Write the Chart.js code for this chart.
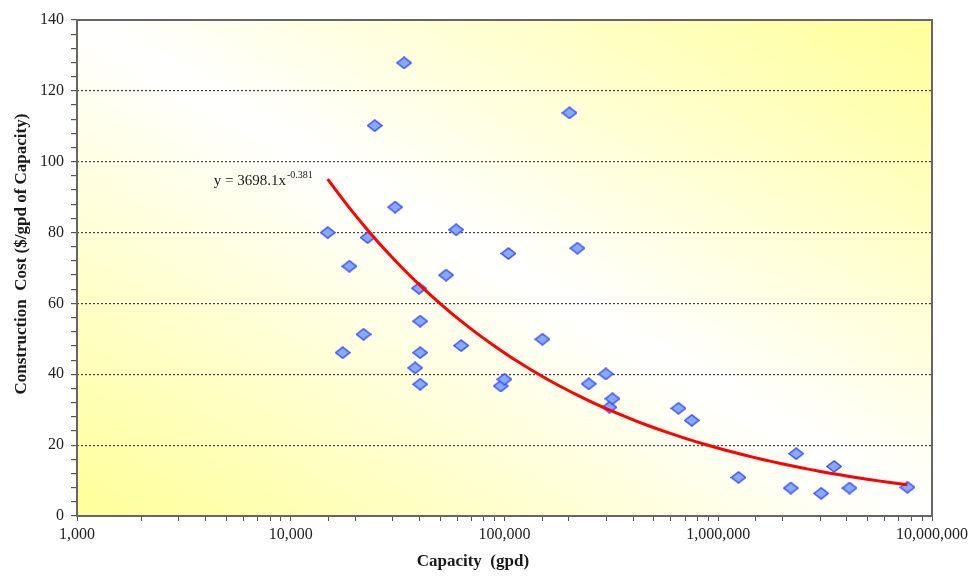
<!DOCTYPE html>
<html>
<head>
<meta charset="utf-8">
<script src="https://cdn.jsdelivr.net/npm/chart.js@4/dist/chart.umd.min.js"></script>
<style>
  html, body { margin: 0; padding: 0; background: #fff; }
  #wrap { width: 976px; height: 576px; }
</style>
</head>
<body>
<div id="wrap"><canvas id="myChart" width="976" height="576"></canvas></div>
<script>
// capacity (gpd) and construction cost ($/gpd) for each plant
var capacity = [14890, 17500, 18800, 21900, 22900, 24700, 30800, 33900, 38200, 39800,
    40300, 40300, 40300, 53300, 59400, 62700, 96100, 99900, 104300, 150400,
    201300, 219300, 247700, 297800, 309600, 319800, 651400, 751700, 1243000, 2185000,
    2314000, 3030000, 3484000, 4111000, 7674000];
var cost = [80.0, 46.1, 70.5, 51.3, 78.6, 110.2, 87.2, 127.9, 41.8, 64.3,
    55.0, 46.1, 37.2, 68.0, 80.8, 48.1, 36.7, 38.6, 74.1, 49.9,
    113.8, 75.6, 37.3, 40.1, 30.7, 33.1, 30.4, 27.0, 10.9, 7.9,
    17.6, 6.4, 14.0, 7.9, 8.1];

// power trendline printed on the chart: y = 3698.1x^-0.381
var trendCoef = 3698.1;
var trendExp = -0.381;

var xTitle = 'Capacity  (gpd)';
var yTitle = 'Construction  Cost ($/gpd of Capacity)';

// trendline over the range of the data
var trendData = [];
var xmin = Math.min.apply(null, capacity), xmax = Math.max.apply(null, capacity);
for (var i = 0; i <= 60; i++) {
    var xv = xmin * Math.pow(xmax / xmin, i / 60);
    trendData.push({x: xv, y: trendCoef * Math.pow(xv, trendExp)});
}

var points = capacity.map(function(c, i) {
    return {x: c, y: cost[i]};
});

// diamond marker, a bit wider than tall
function makeDiamond() {
    var c = document.createElement('canvas');
    c.width = 16; c.height = 13;
    var g = c.getContext('2d');
    g.beginPath();
    g.moveTo(0.9, 6.5); g.lineTo(8, 0.9); g.lineTo(15.1, 6.5); g.lineTo(8, 12.1);
    g.closePath();
    g.fillStyle = '#85aaff';
    g.fill();
    g.strokeStyle = '#3a4ff0';
    g.lineWidth = 1.4;
    g.stroke();
    return c;
}

var serif = '"Liberation Serif", "Times New Roman", serif';

var plotDeco = {
    id: 'plotDeco',
    beforeDraw: function(chart) {
        var a = chart.chartArea, ctx = chart.ctx;
        var cx = (a.left + a.right) / 2, cy = (a.top + a.bottom) / 2;
        var w = a.right - a.left, h = a.bottom - a.top;
        var len = Math.sqrt(w * w + h * h);
        var ux = h / len, uy = -w / len;
        var half = (w / 2) * ux + (h / 2) * -uy;
        var grad = ctx.createLinearGradient(cx - ux * half, cy - uy * half, cx + ux * half, cy + uy * half);
        grad.addColorStop(0, '#ffff99');
        grad.addColorStop(0.5, '#ffffff');
        grad.addColorStop(1, '#ffff99');
        ctx.save();
        ctx.fillStyle = grad;
        ctx.fillRect(a.left, a.top, w, h);
        ctx.restore();
    },
    afterDraw: function(chart) {
        var a = chart.chartArea, ctx = chart.ctx;
        ctx.save();
        ctx.strokeStyle = '#666';
        ctx.lineWidth = 2;
        ctx.strokeRect(a.left, a.top, a.right - a.left, a.bottom - a.top);

        // axis titles
        ctx.fillStyle = '#1a1a1a';
        ctx.font = 'bold 17px ' + serif;
        ctx.textAlign = 'center';
        ctx.textBaseline = 'middle';
        ctx.fillText(xTitle, a.left + (a.right - a.left) * 0.463, 562);
        ctx.translate(22, a.top + (a.bottom - a.top) * 0.472);
        ctx.rotate(-Math.PI / 2);
        ctx.fillText(yTitle, 0, 0);
        ctx.restore();

        // trendline equation next to the start of the curve
        var xs = chart.scales.x, ys = chart.scales.y;
        var px = xs.getPixelForValue(trendData[0].x) - 114;
        var py = ys.getPixelForValue(trendData[0].y) + 6;
        ctx.save();
        ctx.fillStyle = '#1a1a1a';
        ctx.textAlign = 'left';
        ctx.textBaseline = 'alphabetic';
        ctx.font = '15px ' + serif;
        var main = 'y = ' + trendCoef + 'x';
        ctx.fillText(main, px, py);
        var mw = ctx.measureText(main).width;
        ctx.font = '10px ' + serif;
        ctx.fillText(String(trendExp), px + mw + 1, py - 7);
        ctx.restore();
    }
};

var ctx = document.getElementById('myChart').getContext('2d');
var myChart = new Chart(ctx, {
    type: 'scatter',
    data: {
        datasets: [{
            label: 'Trend',
            type: 'line',
            data: trendData,
            borderColor: '#ff0000',
            borderWidth: 3,
            pointRadius: 0,
            fill: false,
            tension: 0
        }, {
            label: 'Cost',
            data: points,
            pointStyle: makeDiamond(),
            pointRadius: 7,
            showLine: false
        }]
    },
    options: {
        responsive: false,
        animation: false,
        layout: {padding: {top: 20, right: 44, left: 0, bottom: 0}},
        plugins: {legend: {display: false}, tooltip: {enabled: false}},
        scales: {
            x: {
                type: 'logarithmic',
                min: 1000,
                max: 10000000,
                afterFit: function(scale) {
                    scale.height = 60;
                    scale.paddingLeft = 0;
                    scale.paddingRight = 0;
                },
                grid: {
                    color: 'rgba(0,0,0,0)',
                    tickColor: '#555',
                    tickLength: 5,
                    drawOnChartArea: false
                },
                border: {display: false},
                ticks: {
                    autoSkip: false,
                    maxRotation: 0,
                    padding: 4,
                    color: '#222',
                    font: {family: serif, size: 16},
                    callback: function(v) {
                        var l = Math.log10(v);
                        if (Math.abs(l - Math.round(l)) < 1e-9) return Number(v).toLocaleString('en-US');
                        return '';
                    }
                }
            },
            y: {
                min: 0,
                max: 140,
                afterFit: function(scale) {
                    scale.width = 77;
                    scale.paddingTop = 0;
                    scale.paddingBottom = 0;
                },
                afterBuildTicks: function(scale) {
                    var t = [];
                    for (var v = 0; v <= 140; v += 4) t.push({value: v});
                    scale.ticks = t;
                },
                grid: {
                    color: function(c) {
                        var v = c.tick ? c.tick.value : 0;
                        return (v % 20 === 0 && v > 0 && v < 140) ? '#444' : 'rgba(0,0,0,0)';
                    },
                    lineWidth: 1.2,
                    tickColor: '#555',
                    tickLength: 6
                },
                border: {display: false, dash: [2, 2]},
                ticks: {
                    autoSkip: false,
                    padding: 7,
                    color: '#222',
                    font: {family: serif, size: 16},
                    callback: function(v) {
                        return v % 20 === 0 ? v : '';
                    }
                }
            }
        }
    },
    plugins: [plotDeco]
});
</script>
</body>
</html>
